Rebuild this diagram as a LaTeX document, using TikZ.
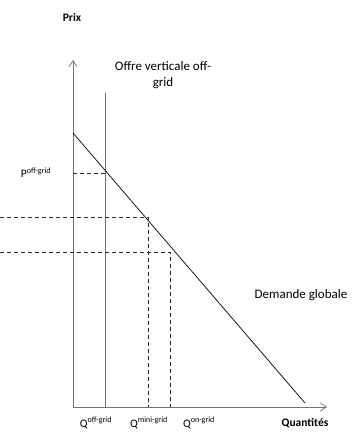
\documentclass[tikz,border=0pt]{standalone}
\usepackage{fontspec}
\setmainfont{Carlito}
\usetikzlibrary{arrows.meta}
\begin{document}
\begin{tikzpicture}[x=1pt,y=-1pt,
  axis/.style={draw=black!55, line width=0.9pt, -{Straight Barb[length=6pt,width=8pt,line width=0.7pt]}},
  supply/.style={draw=black!55, line width=0.9pt},
  demand/.style={draw=black, line width=0.7pt},
  guide/.style={draw=black!85, line width=0.8pt, dash pattern=on 4pt off 3pt},
  lbl/.style={inner sep=0pt, font=\fontsize{13}{15.5}\selectfont, align=center},
  qlbl/.style={inner sep=0pt, font=\fontsize{11.5}{13}\selectfont},
  bold/.style={inner sep=0pt, font=\fontsize{11.5}{13}\selectfont\bfseries}]
\useasboundingbox (0,0) rectangle (357,439);
% axes
\coordinate (O) at (73,407);
\coordinate (ytop) at (73,60);
\coordinate (xend) at (327,407);
\draw[axis] (O) -- (ytop);
\draw[axis] (O) -- (xend);
% supply
\coordinate (Stop) at (105,93);
\coordinate (Sbot) at (105,407);
\draw[supply] (Sbot) -- (Stop);
% demand
\coordinate (Dtop) at (73,133);
\coordinate (Dbot) at (305,403);
\draw[demand] (Dtop) -- (Dbot);
% guides
\coordinate (P1a) at (73,173);
\coordinate (P1b) at (105,173);
\draw[guide] (P1a) -- (P1b);
\coordinate (P2a) at (0,217);
\coordinate (P2b) at (148,217);
\coordinate (Q2) at (148,407);
\draw[guide] (P2a) -- (P2b) -- (Q2);
\coordinate (P3a) at (0,252);
\coordinate (P3b) at (170,252);
\coordinate (Q3) at (170,407);
\draw[guide] (P3a) -- (P3b) -- (Q3);
% labels
\node[bold] (prix) at (72,17) {Prix};
\node[lbl] (offre) at (163,75) {Offre verticale off-\\grid};
\node[lbl] (dem) at (301,295) {Demande globale};
\node[qlbl] (poff) at (36,173) {P\textsuperscript{off-grid}};
\node[qlbl] (qoff) at (96,423) {Q\textsuperscript{off-grid}};
\node[qlbl] (qmini) at (149,423) {Q\textsuperscript{mini-grid}};
\node[qlbl] (qon) at (199,423) {Q\textsuperscript{on-grid}};
\node[bold] (quant) at (305,423) {Quantités};
\end{tikzpicture}
\end{document}
